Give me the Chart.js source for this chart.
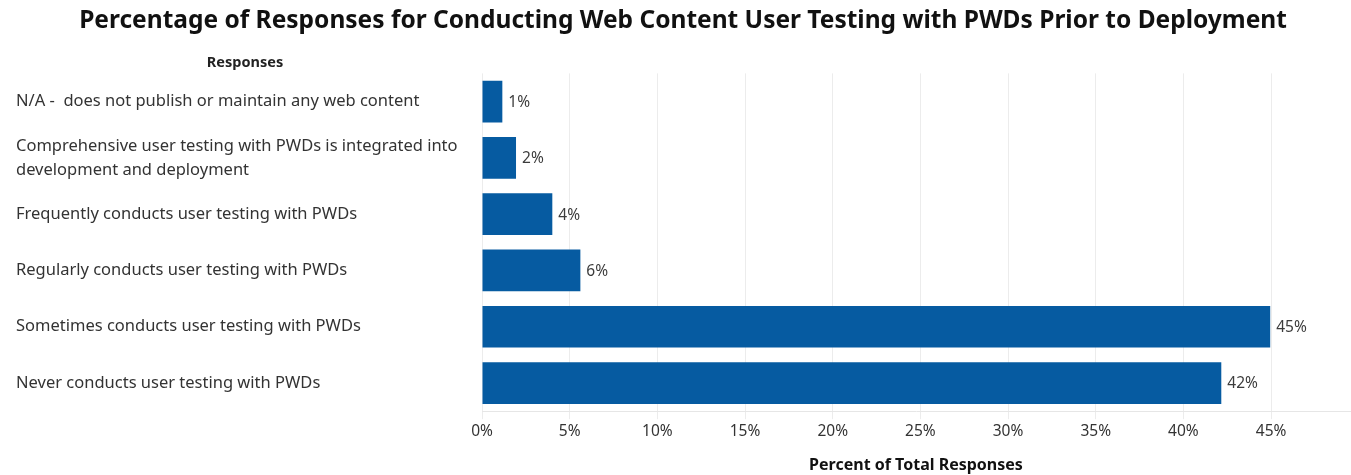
<!DOCTYPE html>
<html>
<head>
<meta charset="utf-8">
<script src="https://cdn.jsdelivr.net/npm/chart.js@4.4.1/dist/chart.umd.min.js"></script>
<style>
  html, body { margin: 0; padding: 0; background: #fff; }
  #wrap { width: 1351px; height: 475px; }
</style>
</head>
<body>
<div id="wrap"><canvas id="chart"></canvas></div>
<script>
// data
const categories = [
  "N/A -  does not publish or maintain any web content",
  ["Comprehensive user testing with PWDs is integrated into", "development and deployment"],
  "Frequently conducts user testing with PWDs",
  "Regularly conducts user testing with PWDs",
  "Sometimes conducts user testing with PWDs",
  "Never conducts user testing with PWDs",
];
const shares = [1.16, 1.94, 4.01, 5.61, 44.95, 42.16];
const shareLabels = ["1%", "2%", "4%", "6%", "45%", "42%"];
const tickValues = [0, 5, 10, 15, 20, 25, 30, 35, 40, 45];

const FONT = "'Noto Sans', Lato, sans-serif";
const TEXT = "#333333";
const BLUE = "#065ba1";

// value labels to the right of each bar
const barLabels = {
  id: "barLabels",
  afterDatasetsDraw(chart) {
    const ctx = chart.ctx;
    const meta = chart.getDatasetMeta(0);
    ctx.save();
    ctx.font = `15.5px ${FONT}`;
    ctx.fillStyle = "#3c3c3c";
    ctx.textAlign = "left";
    ctx.textBaseline = "middle";
    meta.data.forEach((bar, i) => {
      ctx.fillText(shareLabels[i], bar.x + 6, bar.y + 1);
    });
    ctx.restore();
  },
};

// "Responses" header above the category labels
const rowHeader = {
  id: "rowHeader",
  afterDraw(chart) {
    const ctx = chart.ctx;
    ctx.save();
    ctx.font = `bold 14.5px ${FONT}`;
    ctx.fillStyle = "#222";
    ctx.textAlign = "center";
    ctx.textBaseline = "middle";
    ctx.fillText("Responses", 245, 63);
    ctx.restore();
  },
};

new Chart(document.getElementById("chart").getContext("2d"), {
  type: "bar",
  data: {
    labels: categories,
    datasets: [{
      data: shares,
      backgroundColor: BLUE,
      barPercentage: 0.74,
      categoryPercentage: 1,
    }],
  },
  plugins: [barLabels, rowHeader],
  options: {
    indexAxis: "y",
    responsive: true,
    maintainAspectRatio: false,
    animation: false,
    layout: { padding: { left: 16, right: 1, top: 0, bottom: 0 } },
    plugins: {
      legend: { display: false },
      tooltip: { enabled: false },
      title: {
        display: true,
        text: "Percentage of Responses for Conducting Web Content User Testing with PWDs Prior to Deployment",
        color: "#111111",
        font: { family: FONT, size: 24.5, weight: "bold" },
        padding: { top: 6, bottom: 38 },
      },
    },
    scales: {
      x: {
        min: 0,
        max: 49.5,
        afterBuildTicks: (scale) => { scale.ticks = tickValues.map(v => ({ value: v })); },
        grid: { color: "#ececec", tickLength: 8, tickColor: "#ececec" },
        border: { color: "#e6e6e6" },
        ticks: {
          color: TEXT,
          padding: 3,
          font: { family: FONT, size: 15.5 },
          callback: (v) => v + "%",
        },
        title: {
          display: true,
          text: "Percent of Total Responses",
          color: "#111111",
          font: { family: FONT, size: 16, weight: "bold" },
          padding: { top: 12, bottom: 0 },
        },
      },
      y: {
        afterFit: (scale) => { scale.width = 466; },
        grid: { display: false },
        border: { display: false },
        ticks: {
          crossAlign: "far",
          color: TEXT,
          font: { family: FONT, size: 16.5, lineHeight: 1.45 },
        },
      },
    },
  },
});
</script>
</body>
</html>
